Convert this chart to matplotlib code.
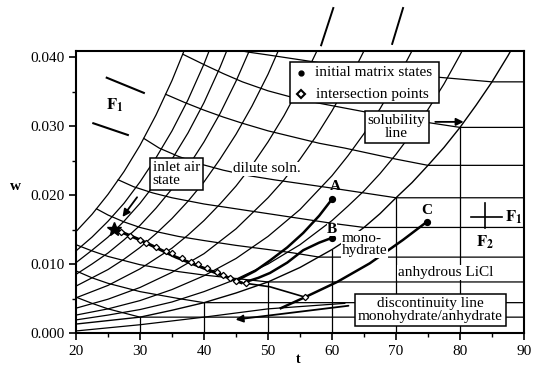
import matplotlib
matplotlib.use('Agg')
import matplotlib.pyplot as plt
from matplotlib.patches import Rectangle
from matplotlib.ticker import MultipleLocator, FormatStrFormatter

plt.rcParams['font.family'] = ['Liberation Serif', 'DejaVu Serif']
plt.rcParams['mathtext.fontset'] = 'stix'

# ---------------- data ----------------
# rising lines of the dilute-solution region (t, w)
rise_t = [
    [20, 22.5, 25, 27.5, 30, 32.5, 35, 37.5],
    [20, 22.5, 25, 27.5, 30, 32.5, 35, 37.5, 40, 42.5],
    [20, 22.5, 25, 27.5, 30, 32.5, 35, 37.5, 40, 42.5, 45],
    [20, 22.5, 25, 27.5, 30, 32.5, 35, 37.5, 40, 42.5, 45, 47.5],
    [20, 25, 27.5, 30, 32.5, 35, 37.5, 40, 42.5, 45, 47.5, 50, 52.5],
    [20, 25, 30, 35, 37.5, 40, 42.5, 45, 47.5, 50, 52.5, 55, 57.5, 60],
    [20, 25, 30, 35, 40, 45, 50, 52.5, 55, 57.5, 60, 62.5, 65, 67.5],
    [20, 25, 30, 35, 40, 45, 50, 55, 60, 62.5, 65, 67.5, 70, 72.5, 75],
    [20, 25, 30, 35, 40, 45, 50, 55, 60, 62.5, 65, 67.5, 70, 72.5, 75, 77.5, 80, 82.5],
]
rise_w = [
    [0.0147, 0.0172, 0.0201, 0.0234, 0.0272, 0.0316, 0.0366, 0.0423],
    [0.0119, 0.0139, 0.0162, 0.0188, 0.0219, 0.0254, 0.0293, 0.0338, 0.0390, 0.0449],
    [0.0102, 0.0120, 0.0139, 0.0162, 0.0188, 0.0218, 0.0252, 0.0290, 0.0334, 0.0385, 0.0442],
    [0.0085, 0.0100, 0.0116, 0.0135, 0.0156, 0.0181, 0.0209, 0.0241, 0.0277, 0.0318, 0.0365, 0.0418],
    [0.0068, 0.0092, 0.0107, 0.0124, 0.0144, 0.0166, 0.0191, 0.0219, 0.0252, 0.0288, 0.0329, 0.0375, 0.0428],
    [0.0051, 0.0069, 0.0093, 0.0123, 0.0142, 0.0163, 0.0187, 0.0213, 0.0243, 0.0277, 0.0315, 0.0358, 0.0406, 0.0460],
    [0.0036, 0.0049, 0.0066, 0.0088, 0.0115, 0.0151, 0.0196, 0.0222, 0.0252, 0.0285, 0.0322, 0.0363, 0.0409, 0.0461],
    [0.0026, 0.0035, 0.0047, 0.0063, 0.0083, 0.0108, 0.0140, 0.0179, 0.0228, 0.0257, 0.0289, 0.0325, 0.0365, 0.0409, 0.0458],
    [0.0019, 0.0026, 0.0034, 0.0045, 0.0060, 0.0078, 0.0100, 0.0128, 0.0163, 0.0184, 0.0206, 0.0231, 0.0259, 0.0290, 0.0324, 0.0361, 0.0403, 0.0448],
]

# solubility line
sol_t = [20, 25, 30, 35, 40, 45, 50, 55, 60, 62.5, 65, 67.5, 70, 72.5, 75, 77.5, 80, 82.5, 85, 87.5, 90]
sol_w = [0.0013, 0.0018, 0.0023, 0.0033, 0.0044, 0.0058, 0.0074, 0.0095, 0.0121, 0.0136, 0.0153,
         0.0173, 0.0196, 0.0218, 0.0243, 0.0269, 0.0298, 0.0330, 0.0364, 0.0402, 0.0443]

# falling lines (continue horizontally right of the solubility line)
fall_t = [
    [44, 47, 50, 55, 60, 65, 70, 75, 80, 85, 90],
    [36.7, 40, 43, 46, 50, 54, 58, 62, 66, 70, 75, 80, 90],
    [34, 37, 40, 43, 46, 50, 54, 58, 62, 66, 70, 75, 90],
    [30.6, 33, 36, 39.4, 43, 47, 51, 55.5, 60, 65, 70, 90],
    [26.6, 29, 32, 35, 40, 45, 50, 55, 60, 65, 90],
    [23.2, 25, 27.5, 30, 33, 36, 40, 45, 50, 54, 58, 90],
    [20, 22.5, 25, 27.5, 30, 33, 36, 40, 45, 50, 90],
    [20, 22.5, 25, 27.5, 30, 33, 36, 40, 90],
    [20, 22.5, 25, 27.5, 30, 90],
]
fall_w = [
    [0.0412, 0.0407, 0.0403, 0.0396, 0.0389, 0.0383, 0.0377, 0.0372, 0.0368, 0.0364, 0.0364],
    [0.0404, 0.0389, 0.0376, 0.0364, 0.0351, 0.0341, 0.0333, 0.0326, 0.0319, 0.0313, 0.0305, 0.0298, 0.0298],
    [0.0346, 0.0334, 0.0323, 0.0313, 0.0304, 0.0293, 0.0284, 0.0275, 0.0268, 0.0260, 0.0252, 0.0243, 0.0243],
    [0.0282, 0.0268, 0.0256, 0.0245, 0.0236, 0.0228, 0.0222, 0.0216, 0.0210, 0.0203, 0.0196, 0.0196],
    [0.0222, 0.0212, 0.0203, 0.0196, 0.0187, 0.0180, 0.0173, 0.0166, 0.0159, 0.0153, 0.0153],
    [0.0180, 0.0171, 0.0161, 0.0153, 0.0146, 0.0140, 0.0134, 0.0127, 0.0121, 0.0116, 0.0110, 0.0110],
    [0.0128, 0.0119, 0.0111, 0.0105, 0.0099, 0.0094, 0.0089, 0.0084, 0.0079, 0.0074, 0.0074],
    [0.0090, 0.0080, 0.0072, 0.0066, 0.0060, 0.0055, 0.0050, 0.0044, 0.0044],
    [0.0052, 0.0043, 0.0035, 0.0029, 0.0023, 0.0023],
]

# vertical lines of the solid region (start on the solubility line)
vert_t = [30, 40, 50, 60, 70, 80]
vert_top = [0.0023, 0.0044, 0.0074, 0.0121, 0.0196, 0.0298]

# low lines near the bottom
low_t = [20, 30, 40, 50, 62]
low_w = [0.0003, 0.0012, 0.0023, 0.0035, 0.0043]

# process paths
main_t = [25.9, 30, 35.6, 40.8, 45.8, 50.3, 55.8]
main_w = [0.0151, 0.0135, 0.0110, 0.0091, 0.0073, 0.0067, 0.0052]
pathA_t = [45.5, 48, 50.3, 53, 55.5, 58, 60]
pathA_w = [0.0078, 0.0090, 0.0105, 0.0124, 0.0145, 0.0170, 0.0194]
pathB_t = [46.5, 48.5, 50.3, 53, 55.5, 58, 60]
pathB_w = [0.0074, 0.0080, 0.0087, 0.0102, 0.0120, 0.0131, 0.0138]
pathC_t = [52, 55.8, 60.8, 65.9, 71.1, 74.8]
pathC_w = [0.0036, 0.0052, 0.0074, 0.0101, 0.0135, 0.0161]

# markers
init_t = [60.0, 60.0, 74.8]
init_w = [0.0194, 0.0138, 0.0161]
inter_t = [27, 28.5, 30, 31, 32.5, 34, 35, 36.5, 38, 39, 40.5, 42, 43, 44, 45, 46.5, 55.8]
inter_w = [0.01467, 0.01408, 0.01349, 0.0131, 0.01251, 0.01193, 0.01153, 0.01094, 0.01036,
           0.00996, 0.00938, 0.00879, 0.0084, 0.0080, 0.00761, 0.0072, 0.0052]
inlet_t, inlet_w = 25.9, 0.0151

xticks = [20, 30, 40, 50, 60, 70, 80, 90]
yticks = [0.000, 0.010, 0.020, 0.030, 0.040]

# ---------------- figure ----------------
fig = plt.figure(figsize=(5.38, 3.67), dpi=100)
ax = fig.add_axes([0.1413, 0.0926, 0.8327, 0.7684])
ax.set_xlim(20, 90)
ax.set_ylim(0, 0.04087)

lw_grid = 0.9
for t, w in zip(rise_t, rise_w):
    ax.plot(t, w, color='black', lw=lw_grid, zorder=2)
ax.plot(sol_t, sol_w, color='black', lw=1.0, zorder=2)
for t, w in zip(fall_t, fall_w):
    ax.plot(t, w, color='black', lw=lw_grid, zorder=2)
for t, top in zip(vert_t, vert_top):
    ax.plot([t, t], [0, top], color='black', lw=lw_grid, zorder=2)
ax.plot(low_t, low_w, color='black', lw=lw_grid, zorder=2)

# process paths
ax.plot(main_t[:5], main_w[:5], color='black', lw=2.2, zorder=3)
ax.plot(main_t[4:], main_w[4:], color='black', lw=1.2, zorder=3)
ax.plot(pathA_t, pathA_w, color='black', lw=1.8, zorder=3)
ax.plot(pathB_t, pathB_w, color='black', lw=1.8, zorder=3)
ax.plot(pathC_t, pathC_w, color='black', lw=1.8, zorder=3)

ax.plot(inter_t, inter_w, linestyle='none', marker='D', ms=3.2, mfc='white', mec='black',
        mew=0.9, zorder=4)
ax.plot(init_t, init_w, linestyle='none', marker='o', ms=4.2, color='black', zorder=4)
ax.plot([inlet_t], [inlet_w], marker='*', ms=10, color='black', zorder=4)

# upper-left F1 strokes
ax.plot([24.8, 30.6], [0.0370, 0.0348], color='black', lw=1.5, zorder=3)
ax.plot([22.7, 28.1], [0.0304, 0.0287], color='black', lw=1.5, zorder=3)
ax.text(26.1, 0.0330, r'$\mathbf{F}_\mathbf{1}$', fontsize=12, ha='center', va='center')

# strokes above the frame
ax.plot([60.2, 58.3], [0.0471, 0.0417], color='black', lw=1.4, clip_on=False)
ax.plot([71.1, 69.4], [0.0471, 0.0419], color='black', lw=1.4, clip_on=False)

# cross symbol
ax.plot([83.9, 83.9], [0.0152, 0.0188], color='black', lw=1.2, zorder=3)
ax.plot([81.7, 86.6], [0.0168, 0.0168], color='black', lw=1.2, zorder=3)
ax.text(87.0, 0.0168, r'$\mathbf{F}_\mathbf{1}$', fontsize=12, ha='left', va='center')
ax.text(83.9, 0.0132, r'$\mathbf{F}_\mathbf{2}$', fontsize=12, ha='center', va='center')

box = dict(boxstyle='square,pad=0.2', fc='white', ec='black', lw=1.1)
fs = 11

# legend box
ax.add_patch(Rectangle((53.4, 0.0333), 23.3, 0.0060, fc='white', ec='black', lw=1.1, zorder=5))
ax.plot([55.2], [0.0377], marker='o', ms=3.5, color='black', zorder=6)
ax.plot([55.2], [0.0346], marker='D', ms=4, mfc='white', mec='black', mew=1.5, zorder=6)
ax.text(57.3, 0.0377, 'initial matrix states', fontsize=fs, ha='left', va='center', zorder=6)
ax.text(57.5, 0.0346, 'intersection points', fontsize=fs, ha='left', va='center', zorder=6)

# annotation boxes
ax.text(32.0, 0.0231, 'inlet air\nstate', fontsize=fs, ha='left', va='center',
        linespacing=1.0, bbox=box, zorder=5)
ax.text(70.1, 0.0298, 'solubility\nline', fontsize=fs, ha='center', va='center',
        linespacing=1.0, bbox=box, zorder=5)
ax.text(75.4, 0.0034, 'discontinuity line\nmonohydrate/anhydrate', fontsize=fs, ha='center',
        va='center', linespacing=1.0, bbox=box, zorder=5)

# arrows
ap = dict(arrowstyle='-|>', color='black', lw=1.3, mutation_scale=11)
ax.annotate('', xy=(27.0, 0.0165), xytext=(29.8, 0.0200), arrowprops=ap, zorder=4)
ax.annotate('', xy=(81.0, 0.0306), xytext=(75.7, 0.0306), arrowprops=ap, zorder=4)
ax.annotate('', xy=(44.5, 0.0019), xytext=(63.0, 0.0040), arrowprops=ap, zorder=4)

# labels
ax.text(49.8, 0.0238, 'dilute soln.', fontsize=fs, ha='center', va='center',
        bbox=dict(boxstyle='square,pad=0.05', fc='white', ec='none'), zorder=4)
ax.text(60.5, 0.0212, 'A', fontsize=fs, fontweight='bold', ha='center', va='center')
ax.text(60.0, 0.0150, 'B', fontsize=fs, fontweight='bold', ha='center', va='center',
        bbox=dict(boxstyle='square,pad=0.02', fc='white', ec='none'), zorder=4)
ax.text(74.8, 0.0177, 'C', fontsize=fs, fontweight='bold', ha='center', va='center')
ax.text(61.5, 0.0128, 'mono-\nhydrate', fontsize=fs, ha='left', va='center', linespacing=0.95,
        bbox=dict(boxstyle='square,pad=0.05', fc='white', ec='none'), zorder=4)
ax.text(70.3, 0.0088, 'anhydrous LiCl', fontsize=fs, ha='left', va='center',
        bbox=dict(boxstyle='square,pad=0.05', fc='white', ec='none'), zorder=4)

# axes styling
ax.set_xticks(xticks)
ax.set_yticks(yticks)
ax.yaxis.set_major_formatter(FormatStrFormatter('%.3f'))
ax.xaxis.set_minor_locator(MultipleLocator(5))
ax.yaxis.set_minor_locator(MultipleLocator(0.005))
ax.tick_params(which='major', direction='out', length=5, width=1.2, labelsize=fs)
ax.tick_params(which='minor', direction='out', length=3, width=1.0)
for s in ax.spines.values():
    s.set_linewidth(1.5)

fig.text(15 / 538, 1 - 186 / 367, 'w', fontsize=11, fontweight='bold', ha='center', va='center')
fig.text(298 / 538, 0.004, 't', fontsize=10, fontweight='bold', ha='center', va='bottom')

fig.savefig('out.png', dpi=100)
